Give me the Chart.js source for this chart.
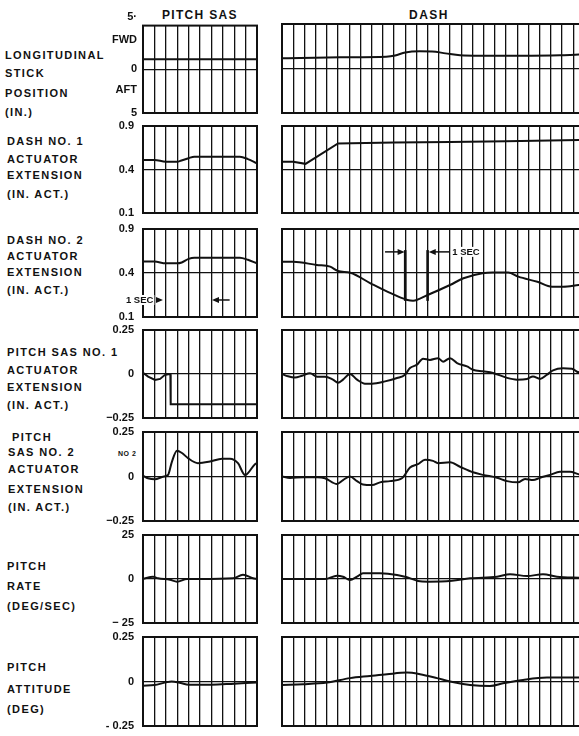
<!DOCTYPE html>
<html><head><meta charset="utf-8">
<script src="https://cdn.jsdelivr.net/npm/chart.js@4.4.0/dist/chart.umd.min.js"></script>
<style>
html,body{margin:0;padding:0;width:579px;height:736px;overflow:hidden;background:#fff;}
.t{position:absolute;font-family:"Liberation Sans",Arial,sans-serif;font-weight:bold;color:#111;white-space:nowrap;font-size:11px;line-height:14px;letter-spacing:1.4px;}
canvas{position:absolute;}
</style></head><body>
<script>
// ---------------- DATA ----------------
// time in grid divisions; values in the units of each row's axis
const stickSasT = [0, 10];
const stickSasV = [1.15, 1.15];
const stickDashT = [0, 1.6, 5.2, 9.3, 10.1, 11, 12.3, 13.4, 14.6, 15.9, 17.7, 21.3, 24.8, 26.5, 27.5];
const stickDashV = [1.15, 1.18, 1.26, 1.33, 1.46, 1.8, 1.93, 1.91, 1.7, 1.48, 1.43, 1.43, 1.48, 1.57, 1.6];

const dash1SasT = [0, 1, 2, 3, 3.3, 4, 4.5, 8.5, 9.2, 10];
const dash1SasV = [0.51, 0.51, 0.49, 0.49, 0.50, 0.53, 0.547, 0.547, 0.52, 0.47];
const dash1DashT = [0, 1, 2.1, 5, 10, 15, 20, 26.5, 27.5];
const dash1DashV = [0.49, 0.49, 0.465, 0.70, 0.71, 0.715, 0.725, 0.74, 0.74];

const dash2SasT = [0, 1, 2, 3, 3.4, 4, 4.5, 8.5, 9.2, 10];
const dash2SasV = [0.53, 0.53, 0.51, 0.51, 0.52, 0.56, 0.574, 0.574, 0.55, 0.51];
const dash2DashT = [0, 1, 3.1, 4.3, 5, 6.1, 7.9, 9.4, 11.2, 11.7, 13, 15, 16.2, 17.9, 18.8, 20.2, 21.1, 22.8, 24.1, 25.1, 26.5, 27.5];
const dash2DashV = [0.528, 0.528, 0.491, 0.472, 0.423, 0.403, 0.33, 0.273, 0.216, 0.211, 0.25, 0.318, 0.364, 0.398, 0.405, 0.405, 0.375, 0.34, 0.307, 0.307, 0.318, 0.325];

const sas1SasT = [0, 0.45, 1.05, 1.5, 1.9, 2.2, 2.4, 2.43, 10];
const sas1SasV = [0.007, -0.015, -0.034, -0.028, -0.006, -0.002, -0.002, -0.172, -0.172];
const sas1DashT = [0, 0.54, 1.16, 1.79, 2.5, 3.13, 3.84, 4.55, 5, 5.45, 6.07, 6.7, 7.41, 8.04, 9.2, 10.27, 10.98, 11.43, 12.05, 12.59, 13.21, 13.93, 14.38, 15, 15.63, 16.52, 17.05, 17.95, 18.84, 20.09, 20.98, 21.88, 22.41, 23.04, 23.66, 24.2, 25.09, 25.89, 26.34, 26.52, 27.5];
const sas1DashV = [0, -0.013, -0.02, -0.01, 0.004, -0.015, -0.015, -0.032, -0.05, -0.032, 0, -0.032, -0.055, -0.055, -0.042, -0.023, -0.004, 0.034, 0.053, 0.087, 0.08, 0.09, 0.07, 0.09, 0.062, 0.043, 0.024, 0.015, 0.006, -0.022, -0.032, -0.028, -0.014, -0.028, -0.004, 0.021, 0.032, 0.03, 0.013, 0.01, 0.01];

const sas2SasT = [0, 0.44, 1.05, 1.75, 2.19, 2.54, 2.98, 3.42, 3.95, 4.82, 5.88, 6.93, 7.63, 8.33, 8.95, 9.82, 10];
const sas2SasV = [0.005, -0.01, -0.016, -0.001, 0.008, 0.084, 0.145, 0.132, 0.103, 0.075, 0.084, 0.1, 0.1, 0.075, 0.008, 0.069, 0.075];
const sas2DashT = [0, 0.71, 1.88, 3.13, 3.84, 4.91, 5.45, 6.07, 6.7, 7.23, 8.04, 8.75, 9.64, 10.71, 11.43, 12.14, 12.77, 13.48, 13.93, 15, 15.89, 17.05, 17.95, 19.2, 20.09, 21.07, 21.7, 22.41, 23.04, 23.93, 24.82, 25.71, 26.52, 27.5];
const sas2DashV = [0, -0.008, -0.004, -0.004, -0.01, -0.042, -0.02, 0, -0.026, -0.045, -0.048, -0.033, -0.026, -0.01, 0.05, 0.069, 0.094, 0.088, 0.075, 0.08, 0.055, 0.024, 0.009, -0.007, -0.026, -0.033, -0.014, -0.02, -0.007, 0.009, 0.027, 0.027, 0.012, 0.005];

const rateSasT = [0, 0.88, 1.32, 2.37, 2.98, 3.86, 5, 7.89, 8.77, 9.65, 10];
const rateSasV = [0, 1.3, 0.4, -0.4, -1.5, 0, 0, 0.4, 2.4, 0.4, 0];
const rateDashT = [0, 3.84, 4.91, 5.45, 6.07, 6.7, 7.23, 8.75, 10.27, 11.16, 12.14, 13.04, 15.18, 16.79, 19.2, 20.36, 21.88, 23.3, 24.55, 26.52, 27.5];
const rateDashV = [0, 0, 1.9, 1.3, -0.6, 1.3, 3.2, 3.2, 2.3, 1, -1.1, -1.5, -1, 0.4, 1.3, 2.7, 1.7, 2.7, 1.3, 0.7, 0.5];

const attSasT = [0, 1, 2, 2.5, 3.3, 4, 6, 8, 10];
const attSasV = [-0.024, -0.02, -0.005, 0, -0.008, -0.018, -0.018, -0.012, -0.006];
const attDashT = [0, 1.88, 4.02, 6.07, 7.86, 9.38, 11.16, 12.32, 13.84, 15, 16.79, 18.57, 19.73, 21.52, 23.66, 26.52, 27.5];
const attDashV = [-0.019, -0.015, -0.006, 0.019, 0.031, 0.041, 0.05, 0.041, 0.019, 0, -0.019, -0.025, -0.01, 0.009, 0.022, 0.022, 0.022];

// tick values / labels (ascending)
const stickTickValues = [-5, -2.4, 0, 3.4, 5];
const stickTickLabels = ['5', 'AFT', '0', 'FWD', ['5·', '']];
const dashTickValues = [0.1, 0.4, 0.9];
const dashTickLabels = ['0.1', '0.4', '0.9'];
const sasTickValues = [-0.25, 0, 0.25];
const sasTickLabels = ['−0.25', '0', '0.25'];
const rateTickValues = [-25, 0, 25];
const rateTickLabels = ['− 25', '0', '25'];
const attTickValues = [-0.25, 0, 0.25];
const attTickLabels = ['- 0.25', '0', '0.25'];

// "1 SEC" time markers (time, value)
const secSasArrows = [[1.15, 1.75], [7.6, 6.05]];
const secSasLevel = 0.216;
const secSasTextT = -1.5;
const secDashArrows = [[9.2, 10.95], [15, 13.1]];
const secDashLevel = 0.64;
const secDashTextT = 15.2;
const secDashMarkers = [11, 13];
const secDashMarkRange = [0.66, 0.21];

const columnTitles = ['PITCH SAS', 'DASH'];
const rowLabels = [
  ['LONGITUDINAL', 'STICK', 'POSITION', '(IN.)'],
  ['DASH NO. 1', 'ACTUATOR', 'EXTENSION', '(IN. ACT.)'],
  ['DASH NO. 2', 'ACTUATOR', 'EXTENSION', '(IN. ACT.)'],
  ['PITCH SAS NO. 1', 'ACTUATOR', 'EXTENSION', '(IN. ACT.)'],
  ['PITCH', 'SAS NO. 2', 'ACTUATOR', 'EXTENSION', '(IN. ACT.)'],
  ['PITCH', 'RATE', '(DEG/SEC)'],
  ['PITCH', 'ATTITUDE', '(DEG)']
];

// ---------------- LAYOUT ----------------
const dashMap = v => v >= 0.4 ? (v - 0.4) / 0.5 : (v - 0.4) / 0.3;
const ROWS = [
  {top:24, bottom:113, map:v=>v/5, tv:stickTickValues, tl:stickTickLabels, lh:1.6, sas:[stickSasT,stickSasV], dash:[stickDashT,stickDashV], pad:6,
   labelX:5, labelY:[55,73,93,112]},
  {top:126, bottom:213, map:dashMap, tv:dashTickValues, tl:dashTickLabels, sas:[dash1SasT,dash1SasV], dash:[dash1DashT,dash1DashV], dashLinear:true,
   labelX:7, labelY:[141,159,175,194]},
  {top:229, bottom:317, map:dashMap, tv:dashTickValues, tl:dashTickLabels, sas:[dash2SasT,dash2SasV], dash:[dash2DashT,dash2DashV], sec:true,
   labelX:7, labelY:[240,256,272,290]},
  {top:330, bottom:418, map:v=>v/0.25, tv:sasTickValues, tl:sasTickLabels, sas:[sas1SasT,sas1SasV], dash:[sas1DashT,sas1DashV], sasLinear:true,
   labelX:7, labelY:[352,370,387,405]},
  {top:432, bottom:521, map:v=>v/0.25, tv:sasTickValues, tl:sasTickLabels, sas:[sas2SasT,sas2SasV], dash:[sas2DashT,sas2DashV],
   labelX:8, labelY:[437,452,469,489,507]},
  {top:535, bottom:623, map:v=>v/25, tv:rateTickValues, tl:rateTickLabels, sas:[rateSasT,rateSasV], dash:[rateDashT,rateDashV],
   labelX:7, labelY:[566,586,606]},
  {top:637, bottom:726, map:v=>v/0.25, tv:attTickValues, tl:attTickLabels, sas:[attSasT,attSasV], dash:[attDashT,attDashV],
   labelX:7, labelY:[667,689,709]}
];

function addText(txt, x, y, extra) {
  const d = document.createElement('div');
  d.className = 't';
  d.textContent = txt;
  d.style.left = x + 'px';
  d.style.top = (y - 7) + 'px';
  if (extra) Object.assign(d.style, extra);
  document.body.appendChild(d);
  return d;
}

// titles
const t1 = addText(columnTitles[0], 0, 15, {fontSize:'12px', letterSpacing:'1.3px'});
t1.style.left = (200 - t1.offsetWidth / 2) + 'px';
const t2 = addText(columnTitles[1], 0, 15, {fontSize:'12px', letterSpacing:'1.5px'});
t2.style.left = (429 - t2.offsetWidth / 2) + 'px';

ROWS.forEach((r, i) => {
  rowLabels[i].forEach((s, k) => addText(s, (i === 4 && k === 0) ? 12 : r.labelX, r.labelY[k]));
});
addText('NO 2', 118, 454, {fontSize:'7px', letterSpacing:'0.5px'});

const framePlugin = {
  id: 'frame',
  afterDraw(chart) {
    const {ctx, chartArea: a} = chart;
    ctx.save();
    ctx.strokeStyle = '#111';
    ctx.lineWidth = 2;
    ctx.strokeRect(a.left, a.top, a.right - a.left, a.bottom - a.top);
    ctx.restore();
  }
};

function secPlugin(cfg) {
  return {
    id: 'sec',
    afterDraw(chart) {
      const {ctx} = chart, x = chart.scales.x, y = chart.scales.y;
      ctx.save();
      ctx.strokeStyle = '#111'; ctx.fillStyle = '#111';
      const yy = y.getPixelForValue(cfg.map(cfg.level));
      (cfg.markers || []).forEach(m => {
        const xm = x.getPixelForValue(m);
        ctx.lineWidth = 2.6;
        ctx.beginPath();
        ctx.moveTo(xm, y.getPixelForValue(cfg.map(cfg.markRange[0])));
        ctx.lineTo(xm, y.getPixelForValue(cfg.map(cfg.markRange[1])));
        ctx.stroke();
      });
      ctx.font = 'bold 9.5px "Liberation Sans", Arial, sans-serif';
      ctx.textBaseline = 'middle'; ctx.textAlign = 'left';
      const tx = x.getPixelForValue(cfg.textT);
      const w = ctx.measureText('1 SEC').width;
      ctx.fillStyle = '#fff';
      ctx.fillRect(tx - 1, yy - 5, w + 2, 10);
      ctx.fillStyle = '#111';
      ctx.fillText('1 SEC', tx, yy);
      ctx.lineWidth = 1.5;
      cfg.arrows.forEach(([a, b]) => {
        const xa = x.getPixelForValue(a), xb = x.getPixelForValue(b);
        const dir = Math.sign(xb - xa);
        ctx.beginPath(); ctx.moveTo(xa, yy); ctx.lineTo(xb - dir * 4, yy); ctx.stroke();
        ctx.beginPath(); ctx.moveTo(xb, yy); ctx.lineTo(xb - dir * 7, yy - 3); ctx.lineTo(xb - dir * 7, yy + 3); ctx.closePath(); ctx.fill();
      });
      ctx.restore();
    }
  };
}

const PAD = 22;
function makeChart(r, side) {
  const isLeft = side === 'sas';
  const [T, V] = r[side];
  const cv = document.createElement('canvas');
  const left = isLeft ? 40 : 272;
  const width = isLeft ? 222 : 318;
  const top = r.top - PAD, height = r.bottom - r.top + 2 * PAD;
  cv.width = width; cv.height = height;
  cv.style.left = left + 'px'; cv.style.top = top + 'px';
  cv.style.width = width + 'px'; cv.style.height = height + 'px';
  document.body.appendChild(cv);
  const linear = isLeft ? r.sasLinear : r.dashLinear;
  const plugins = [framePlugin];
  if (r.sec) {
    plugins.push(secPlugin(isLeft
      ? {map:r.map, arrows:secSasArrows, level:secSasLevel, textT:secSasTextT}
      : {map:r.map, arrows:secDashArrows, level:secDashLevel, textT:secDashTextT, markers:secDashMarkers, markRange:secDashMarkRange}));
  }
  new Chart(cv, {
    type: 'line',
    data: {
      datasets: [{
        data: T.map((t, k) => ({x: t, y: r.map(V[k])})),
        borderColor: '#111',
        borderWidth: 2,
        pointRadius: 0,
        fill: false,
        tension: linear ? 0 : 0.25,
        cubicInterpolationMode: linear ? 'default' : 'monotone'
      }]
    },
    options: {
      responsive: false,
      animation: false,
      events: [],
      layout: {padding: {left: isLeft ? 0 : 10, right: isLeft ? 5 : 0, top: PAD, bottom: PAD}},
      plugins: {legend: {display: false}, tooltip: {enabled: false}},
      scales: {
        x: {
          type: 'linear', min: 0, max: isLeft ? 10 : 27.5,
          ticks: {display: false, stepSize: 1, autoSkip: false},
          grid: {color: '#111', lineWidth: 1.3, drawTicks: false},
          border: {display: false}
        },
        y: {
          type: 'linear', min: -1, max: 1,
          afterBuildTicks: s => { s.ticks = r.tv.map(v => ({value: r.map(v)})); },
          afterFit: s => { s.width = isLeft ? 103 : 0; },
          ticks: {
            display: isLeft,
            autoSkip: false,
            padding: r.pad || 9,
            color: '#111',
            font: {family: '"Liberation Sans", Arial, sans-serif', weight: 'bold', size: 11, lineHeight: r.lh || 1.2},
            callback: (val, idx) => r.tl[idx]
          },
          grid: {
            drawTicks: false,
            lineWidth: 1.3,
            color: c => (c.tick && Math.abs(c.tick.value) < 1e-9) ? '#111' : 'rgba(0,0,0,0)'
          },
          border: {display: false}
        }
      }
    },
    plugins
  });
}

ROWS.forEach(r => { makeChart(r, 'sas'); makeChart(r, 'dash'); });
</script>
</body></html>
